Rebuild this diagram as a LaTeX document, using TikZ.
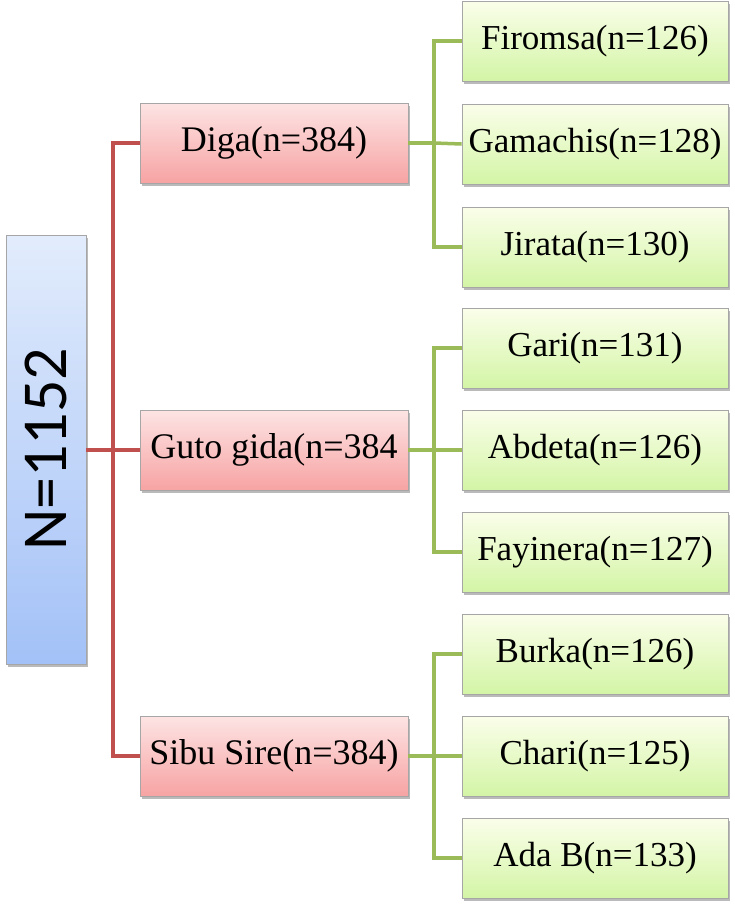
\documentclass[tikz,border=0pt]{standalone}
\usepackage{fontspec}
\setmainfont{Liberation Serif}
\newfontfamily\rootfont{Carlito}
\usetikzlibrary{shadows}
\definecolor{redline}{HTML}{C0504D}
\definecolor{greenline}{HTML}{9BBB59}
\definecolor{redtop}{HTML}{FDE4E4}
\definecolor{redbot}{HTML}{F7A3A3}
\definecolor{greentop}{HTML}{FBFEEA}
\definecolor{greenbot}{HTML}{D3F5A6}
\definecolor{bluetop}{HTML}{E2ECFC}
\definecolor{bluebot}{HTML}{A3C1F7}
\definecolor{boxedge}{HTML}{A6A6A6}
\tikzset{
  every picture/.style={x=1pt,y=-1pt},
  basebox/.style={draw=boxedge, line width=0.8pt, inner sep=0pt,
    drop shadow={shadow xshift=2pt, shadow yshift=-3pt, opacity=0.45, fill=black!60}},
  rootbox/.style={basebox, top color=bluetop, bottom color=bluebot,
    minimum width=80pt, minimum height=429pt},
  redbox/.style={basebox, top color=redtop, bottom color=redbot,
    minimum width=268pt, minimum height=80pt, font=\fontsize{36}{40}\selectfont},
  greenbox/.style={basebox, top color=greentop, bottom color=greenbot,
    minimum width=266pt, minimum height=80pt, font=\fontsize{35}{40}\selectfont},
  redconn/.style={draw=redline, line width=3.5pt},
  greenconn/.style={draw=greenline, line width=3.5pt}
}
\begin{document}
\begin{tikzpicture}
\useasboundingbox (0,0) rectangle (735,908);
% root
\node[rootbox] (root) at (46,449.5) {};
\node[rotate=90, font=\rootfont\fontsize{64}{70}\selectfont] (roottxt) at (root.center) {N=1152};
% level 1
\node[redbox] (diga) at (274,143) {Diga(n=384)};
\node[redbox] (guto) at (274,450) {Guto gida(n=384};
\node[redbox] (sibu) at (274,756) {Sibu Sire(n=384)};
% level 2
\node[greenbox] (g1) at (595,41) {Firomsa(n=126)};
\node[greenbox] (g2) at (595,144) {Gamachis(n=128)};
\node[greenbox] (g3) at (595,247) {Jirata(n=130)};
\node[greenbox] (g4) at (595,348) {Gari(n=131)};
\node[greenbox] (g5) at (595,450) {Abdeta(n=126)};
\node[greenbox] (g6) at (595,552) {Fayinera(n=127)};
\node[greenbox] (g7) at (595,654) {Burka(n=126)};
\node[greenbox] (g8) at (595,756) {Chari(n=125)};
\node[greenbox] (g9) at (595,858) {Ada B(n=133)};
% junctions
\coordinate (rj) at (113,450);
\coordinate (gj1) at (434,143);
\coordinate (gj2) at (434,450);
\coordinate (gj3) at (434,756);
% connectors
\draw[redconn] (root.east |- rj) -- (rj);
\draw[redconn] (rj) |- (diga.west);
\draw[redconn] (rj) |- (sibu.west);
\draw[redconn] (rj) -- (guto.west);
\draw[greenconn] (diga.east) -- (gj1);
\draw[greenconn] (gj1) |- (g1.west);
\draw[greenconn] (gj1) |- (g3.west);
\draw[greenconn] (gj1) -- (g2.west);
\draw[greenconn] (guto.east) -- (gj2);
\draw[greenconn] (gj2) |- (g4.west);
\draw[greenconn] (gj2) |- (g6.west);
\draw[greenconn] (gj2) -- (g5.west);
\draw[greenconn] (sibu.east) -- (gj3);
\draw[greenconn] (gj3) |- (g7.west);
\draw[greenconn] (gj3) |- (g9.west);
\draw[greenconn] (gj3) -- (g8.west);
\end{tikzpicture}
\end{document}
